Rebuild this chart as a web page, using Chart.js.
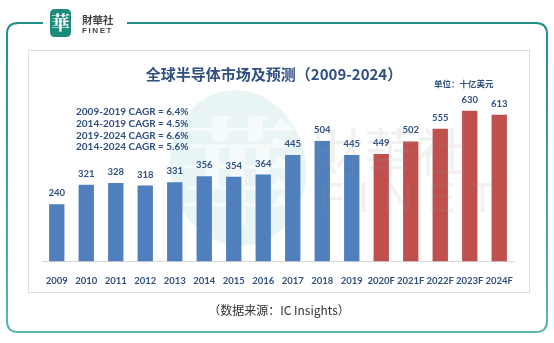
<!DOCTYPE html>
<html><head><meta charset="utf-8">
<script src="https://cdn.jsdelivr.net/npm/chart.js@4"></script>
<style>html,body{margin:0;padding:0;background:#fff}#wrap{width:554px;height:343px;position:relative}</style>
</head><body><div id="wrap"><canvas id="c" width="554" height="343"></canvas></div>
<script>
const categories = ['2009','2010','2011','2012','2013','2014','2015','2016','2017','2018','2019','2020F','2021F','2022F','2023F','2024F'];
const marketValues = [240,321,328,318,331,356,354,364,445,504,445,449,502,555,630,613];
const cagrLines = ['2009-2019 CAGR = 6.4%','2014-2019 CAGR = 4.5%','2019-2024 CAGR = 6.6%','2014-2024 CAGR = 5.6%'];
const titleText = '全球半导体市场及预测（2009-2024）';
const unitText = '单位：十亿美元';
const sourceText = '（数据来源：IC Insights）';
const brandName = '財華社';
const brandLatin = 'FINET';
const logoChar = '華';

const BLUE = '#4f7fbd', RED = '#c0504d', TXT = '#2f4f82', NUM = 'Lato, "Noto Sans", sans-serif';
const CJK = '"Noto Sans CJK SC", sans-serif';

function rr(ctx,x,y,w,h,r){ctx.beginPath();ctx.moveTo(x+r,y);ctx.lineTo(x+w-r,y);ctx.quadraticCurveTo(x+w,y,x+w,y+r);ctx.lineTo(x+w,y+h-r);ctx.quadraticCurveTo(x+w,y+h,x+w-r,y+h);ctx.lineTo(x+r,y+h);ctx.quadraticCurveTo(x,y+h,x,y+h-r);ctx.lineTo(x,y+r);ctx.quadraticCurveTo(x,y,x+r,y);ctx.closePath();}

const decor = {
  id:'decor',
  beforeDraw(chart){
    const ctx = chart.ctx;
    ctx.save();
    ctx.fillStyle='#fff';ctx.fillRect(0,0,554,343);
    const g = ctx.createLinearGradient(0,23,0,332);
    g.addColorStop(0,'#1f8f87');g.addColorStop(1,'#56b8ad');
    ctx.strokeStyle=g;ctx.lineWidth=2;
    const x0=7,y0=23,x1=547,y1=332,r=11;
    ctx.beginPath();
    ctx.moveTo(43,y0);ctx.lineTo(x0+r,y0);ctx.quadraticCurveTo(x0,y0,x0,y0+r);
    ctx.lineTo(x0,y1-r);ctx.quadraticCurveTo(x0,y1,x0+r,y1);
    ctx.lineTo(x1-r,y1);ctx.quadraticCurveTo(x1,y1,x1,y1-r);
    ctx.lineTo(x1,y0+r);ctx.quadraticCurveTo(x1,y0,x1-r,y0);
    ctx.lineTo(127,y0);
    ctx.stroke();
    ctx.strokeStyle='#dedede';ctx.lineWidth=1;
    ctx.strokeRect(28.5,50.5,501,242);
    ctx.fillStyle='#1d8b7c';rr(ctx,50,9,21,28,5);ctx.fill();
    ctx.fillStyle='#fff';ctx.font='bold 19px "Noto Serif CJK SC", "Noto Sans CJK TC", serif';
    ctx.textAlign='center';ctx.textBaseline='middle';ctx.fillText(logoChar,60.5,23);
    ctx.fillStyle='#444';ctx.font='bold 10.5px "Noto Sans CJK TC", sans-serif';ctx.textAlign='left';
    ctx.fillText(brandName,82,20);
    ctx.font='bold 8px "Liberation Sans", sans-serif';
    let lx=82;for(const ch of brandLatin){ctx.fillText(ch,lx,31);lx+=ctx.measureText(ch).width+1.6;}
    ctx.fillStyle='rgba(120,195,185,0.16)';
    ctx.beginPath();ctx.ellipse(238,168,68,78,-0.15,0,Math.PI*2);ctx.fill();
    ctx.fillStyle='rgba(255,255,255,0.55)';
    ctx.font='bold 120px "Noto Serif CJK SC", "Noto Sans CJK TC", serif';ctx.textAlign='center';
    ctx.fillText(logoChar,238,172);
    ctx.fillStyle=TXT;ctx.font='bold 15px '+CJK;ctx.textAlign='center';
    ctx.fillText(titleText,274,74);
    ctx.font='bold 8.5px '+CJK;ctx.textAlign='left';
    ctx.fillText(unitText,434,84);
    ctx.font='bold 10px '+NUM;
    cagrLines.forEach((t,i)=>ctx.fillText(t,76,112+i*11.7));
    ctx.fillStyle='#333';ctx.font='12px '+CJK;ctx.textAlign='center';
    ctx.fillText(sourceText,279,310);
    ctx.restore();
  },
  afterDatasetsDraw(chart){
    const ctx=chart.ctx;ctx.save();
    const meta=chart.getDatasetMeta(0);
    ctx.fillStyle=TXT;ctx.font='bold 9.5px '+NUM;ctx.textAlign='center';ctx.textBaseline='middle';
    meta.data.forEach((b,i)=>ctx.fillText(String(marketValues[i]),b.x,b.y-11));
    ctx.fillStyle='rgba(150,150,150,0.13)';
    ctx.font='52px "Noto Sans CJK TC", sans-serif';ctx.textAlign='left';
    ctx.fillText(brandName,312,152);
    ctx.font='42px "Liberation Sans", sans-serif';
    let lx=318;for(const ch of brandLatin){ctx.fillText(ch,lx,200);lx+=ctx.measureText(ch).width+14;}
    ctx.restore();
  }
};

new Chart(document.getElementById('c'),{
  type:'bar',
  data:{labels:categories,datasets:[{data:marketValues,
    backgroundColor:categories.map(c=>c.endsWith('F')?RED:BLUE),
    borderWidth:0,categoryPercentage:1,barPercentage:0.52}]},
  options:{responsive:false,animation:false,devicePixelRatio:1,
    layout:{padding:{left:42,right:40,top:94,bottom:50}},
    plugins:{legend:{display:false},title:{display:false},tooltip:{enabled:false}},
    scales:{
      x:{grid:{display:false},border:{display:true,color:'#d9d9d9',width:1},
        ticks:{color:TXT,font:{family:'Lato, "Noto Sans", sans-serif',weight:'bold',size:9.5},padding:6,maxRotation:0,autoSkip:false}},
      y:{display:false,min:0,max:700}
    }
  },
  plugins:[decor]
});
</script></body></html>
